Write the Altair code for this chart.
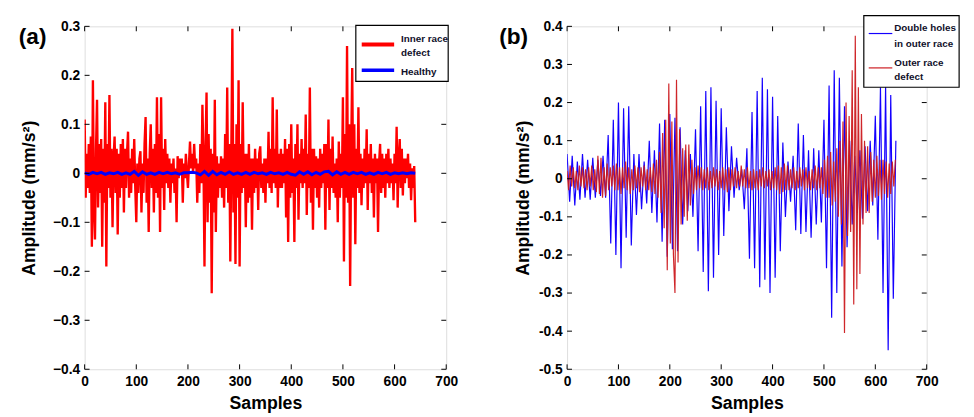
import altair as alt
import pandas as pd

FONT = "Liberation Sans"

# ---------------- data ----------------
# Panel (a): inner race defect, one value every 2 samples
a_inner_step = 2
a_inner = [
    0.11, -0.05, 0.04, -0.03, 0.06, -0.04, 0.075, -0.15, 0.19, -0.07,
    -0.135, 0.05, 0.15, -0.07, 0.06, -0.04, 0.07, -0.15, 0.05, -0.06,
    0.145, -0.19, 0.06, -0.03, 0.16, -0.05, 0.05, -0.11, 0.03, 0.075,
    -0.04, 0.05, -0.125, 0.04, -0.05, 0.06, -0.03, 0.07, -0.08, 0.05,
    -0.03, 0.04, 0.085, -0.05, 0.03, -0.04, 0.05, -0.02, 0.07, -0.03,
    -0.1, 0.02, -0.04, 0.03, 0.045, -0.08, 0.02, -0.04, 0.06, 0.115,
    -0.06, 0.03, -0.12, 0.04, 0.1, -0.03, 0.05, -0.08, 0.06, -0.04,
    0.155, -0.05, 0.08, -0.12, 0.155, -0.03, 0.05, -0.075, 0.07, -0.02,
    0.04, -0.03, 0.03, -0.06, 0.02, -0.02, 0.03, -0.04, 0.01, -0.1,
    0.035, -0.01, 0.03, 0.0, 0.03, -0.06, 0.02, -0.01, 0.04, 0.0,
    -0.03, 0.02, 0.065, 0.01, 0.04, 0.0, 0.06, 0.01, 0.03, -0.06,
    0.02, -0.04, 0.06, -0.02, 0.14, 0.03, -0.19, 0.05, 0.165, -0.1,
    0.08, -0.06, 0.05, -0.245, 0.04, -0.08, 0.15, -0.12, 0.035, -0.05,
    0.02, -0.03, 0.035, -0.05, 0.03, -0.07, 0.08, -0.03, 0.175, -0.06,
    0.06, -0.18, 0.05, 0.295, -0.08, 0.06, -0.185, 0.1, -0.05, 0.19,
    -0.19, 0.06, -0.04, 0.145, -0.03, 0.04, -0.11, 0.04, -0.06, 0.06,
    -0.05, 0.03, -0.115, 0.03, -0.04, 0.05, -0.03, 0.03, -0.075, 0.04,
    0.055, -0.03, 0.02, -0.04, 0.03, -0.06, 0.03, -0.02, 0.085, -0.03,
    0.05, -0.04, 0.155, -0.02, 0.05, -0.03, 0.13, -0.07, 0.04, -0.03,
    0.05, -0.03, 0.04, -0.02, 0.07, -0.09, 0.05, -0.14, 0.06, -0.05,
    0.1, -0.04, 0.03, -0.14, 0.06, -0.03, 0.1, -0.095, 0.04, -0.02,
    0.07, -0.03, 0.05, -0.02, 0.12, -0.085, 0.04, -0.03, 0.175, -0.06,
    0.05, -0.115, 0.05, -0.03, 0.035, -0.05, 0.03, -0.07, 0.05, -0.03,
    0.04, -0.02, 0.06, -0.115, 0.06, -0.03, 0.11, -0.075, 0.05, -0.03,
    0.075, -0.04, 0.02, -0.05, 0.03, -0.1, 0.065, -0.05, 0.04, -0.03,
    0.155, -0.18, 0.08, -0.05, 0.26, -0.06, 0.1, -0.23, 0.05, 0.215,
    -0.05, 0.1, -0.145, 0.05, -0.03, 0.135, -0.04, 0.04, -0.065, 0.03,
    -0.03, 0.05, -0.02, 0.09, -0.075, 0.04, -0.02, 0.06, -0.04, 0.03,
    -0.09, 0.04, -0.02, 0.03, -0.12, 0.02, 0.06, -0.04, 0.04, -0.03,
    0.03, -0.05, 0.04, -0.02, 0.05, -0.03, 0.03, -0.02, 0.02, -0.055,
    0.04, -0.02, 0.095, -0.07, 0.03, 0.07, -0.03, 0.05, -0.045, 0.03,
    -0.02, 0.03, -0.01, 0.04, -0.03, 0.02, -0.055, 0.01, -0.03, 0.015,
    -0.1,
]

# Panel (a): healthy, one value every 8 samples
a_healthy_step = 8
a_healthy = [
    0.001, -0.002, 0.002, -0.001, 0.002, -0.002, 0.001, -0.001, 0.002, -0.002,
    0.001, -0.002, 0.004, -0.004, 0.003, -0.002, 0.001, -0.002, 0.002, -0.001,
    0.002, -0.001, 0.001, -0.002, 0.001, 0.001, 0.002, 0.001, -0.003, 0.004,
    -0.004, 0.004, -0.003, 0.002, -0.002, 0.003, -0.002, 0.001, -0.002, 0.002,
    -0.002, 0.002, -0.001, 0.001, -0.002, 0.002, -0.001, 0.001, -0.002, 0.002,
    -0.002, -0.004, 0.003, -0.002, 0.003, -0.003, 0.002, -0.002, 0.003, 0.004,
    -0.003, 0.003, -0.002, 0.002, -0.002, 0.002, -0.001, 0.002, -0.002, 0.001,
    -0.002, 0.002, -0.001, 0.002, -0.002, 0.001, -0.001, 0.001, -0.001, 0.001,
    0.0,
]

# Panel (b): double holes in outer race, one value every 5 samples
b_double_step = 5
b_double = [
    0.065, -0.06, 0.06, -0.07, 0.045, -0.055, 0.065, -0.05, 0.05, -0.055,
    0.055, -0.05, 0.05, -0.045, 0.06, -0.05, 0.115, -0.17, 0.155, -0.2,
    0.2, -0.235, 0.185, -0.155, 0.19, -0.175, 0.065, -0.095, 0.065, -0.08,
    0.045, -0.065, 0.1, -0.09, 0.075, -0.115, 0.145, -0.165, 0.155, -0.205,
    0.17, -0.185, 0.16, -0.19, 0.135, -0.12, 0.075, -0.085, 0.065, -0.1,
    0.13, -0.19, 0.19, -0.245, 0.23, -0.295, 0.24, -0.26, 0.205, -0.2,
    0.185, -0.15, 0.135, -0.085, 0.085, -0.05, 0.055, -0.03, 0.025, -0.08,
    0.08, -0.21, 0.175, -0.235, 0.23, -0.285, 0.265, -0.265, 0.235, -0.3,
    0.215, -0.26, 0.165, -0.19, 0.095, -0.1, 0.045, -0.06, 0.06, -0.135,
    0.145, -0.145, 0.115, -0.14, 0.075, -0.155, 0.08, -0.12, 0.075, -0.115,
    0.155, -0.235, 0.245, -0.365, 0.285, -0.3, 0.265, -0.23, 0.19, -0.18,
    0.1, -0.12, 0.06, -0.09, 0.075, -0.105, 0.085, -0.085, 0.1, -0.07,
    0.165, -0.16, 0.24, -0.3, 0.245, -0.45, 0.22, -0.315, 0.1,
]

# Panel (b): outer race defect, one value every 3 samples
b_outer_step = 3
b_outer = [
    0.02, -0.03, 0.035, -0.02, 0.03, -0.025, 0.02, -0.03, 0.035, -0.02,
    0.03, -0.025, 0.025, -0.03, 0.03, -0.02, 0.035, -0.03, 0.025, -0.035,
    0.06, -0.04, 0.055, -0.05, 0.03, -0.045, 0.04, -0.03, 0.03, -0.02,
    0.035, -0.03, 0.04, -0.03, 0.03, -0.04, 0.03, -0.025, 0.045, -0.03,
    0.03, -0.04, 0.025, -0.03, 0.035, -0.025, 0.03, -0.035, 0.03, -0.02,
    0.035, -0.03, 0.025, -0.03, 0.03, -0.035, 0.04, -0.04, 0.05, -0.05,
    0.07, -0.09, 0.12, -0.13, 0.155, -0.24, 0.25, -0.17, 0.15, -0.2,
    -0.3, 0.26, -0.22, 0.13, -0.12, 0.08, -0.1, 0.09, -0.11, 0.09,
    -0.07, 0.05, -0.04, 0.03, -0.03, 0.035, -0.025, 0.03, -0.03, 0.025,
    -0.025, 0.03, -0.03, 0.02, -0.025, 0.03, -0.02, 0.025, -0.03, 0.02,
    -0.025, 0.03, -0.03, 0.025, -0.035, 0.03, -0.03, 0.025, -0.02, 0.03,
    -0.025, 0.02, -0.02, 0.035, -0.02, 0.025, -0.025, 0.03, -0.025, 0.02,
    -0.03, 0.025, -0.025, 0.02, -0.03, 0.025, -0.02, 0.03, -0.025, 0.02,
    -0.02, 0.025, -0.03, 0.02, -0.025, 0.03, -0.03, 0.035, -0.04, 0.03,
    -0.035, 0.04, -0.03, 0.035, -0.03, 0.025, -0.025, 0.03, -0.03, 0.02,
    -0.025, 0.03, -0.02, 0.025, -0.03, 0.03, -0.025, 0.02, -0.03, 0.025,
    -0.025, 0.035, -0.03, 0.03, -0.025, 0.03, -0.04, 0.05, -0.05, 0.06,
    -0.05, 0.07, -0.07, 0.045, -0.06, 0.08, -0.1, 0.1, -0.12, 0.15,
    -0.405, 0.2, -0.15, 0.165, -0.14, 0.285, -0.33, 0.375, -0.29, 0.24,
    -0.25, 0.17, -0.12, 0.1, -0.09, 0.085, -0.09, 0.07, -0.06, 0.05,
    -0.05, 0.06, -0.045, 0.05, -0.055, 0.05, -0.04, 0.045, -0.05, 0.04,
    -0.04, 0.045, -0.02, 0.05,
]

x_ticks = [0, 100, 200, 300, 400, 500, 600, 700]
a_y_ticks = [-0.4, -0.3, -0.2, -0.1, 0.0, 0.1, 0.2, 0.3]
b_y_ticks = [-0.5, -0.4, -0.3, -0.2, -0.1, 0.0, 0.1, 0.2, 0.3, 0.4]

a_names = ["Inner race defect", "Healthy"]
b_names = ["Double holes in outer race", "Outer race defect"]

# ---------------- helpers ----------------
W_A, W_B, H = 368, 366, 349
TICK = 5


def series_df(values, step):
    return pd.DataFrame({"x": [i * step for i in range(len(values))], "y": values})


def dummy():
    return pd.DataFrame({"k": [0]})


def panel(series, y_ticks, y_dom, width, label_expr, letter, legend, title_pad):
    xs = alt.Scale(domain=[0, 700], nice=False, zero=False)
    ys = alt.Scale(domain=y_dom, nice=False, zero=False)
    xaxis = alt.Axis(
        values=x_ticks, ticks=False, domain=False, grid=False,
        labelFontSize=14, labelFontWeight="bold", labelFont=FONT,
        labelColor="black", labelPadding=6, labelFlush=False,
        labelOverlap=False, title="Samples", titleFontSize=18,
        titleFontWeight="bold", titleFont=FONT, titleColor="black",
        titlePadding=6)
    yaxis = alt.Axis(
        values=y_ticks, ticks=False, domain=False, grid=False,
        labelFontSize=14, labelFontWeight="bold", labelFont=FONT,
        labelColor="black", labelPadding=5, labelFlush=False,
        labelOverlap=False, labelExpr=label_expr,
        title="Amplitude (mm/s\u00b2)", titleFontSize=18,
        titleFontWeight="bold", titleFont=FONT, titleColor="black",
        titlePadding=title_pad)
    xenc = alt.X("x:Q", scale=xs, axis=xaxis)
    yenc = alt.Y("y:Q", scale=ys, axis=yaxis)

    layers = []
    for df, color, sw, op in series:
        layers.append(alt.Chart(df).mark_line(
            color=color, strokeWidth=sw, opacity=op, strokeJoin="miter",
            clip=True).encode(x=xenc, y=yenc))

    ytdf = pd.DataFrame({"y": y_ticks})
    xtdf = pd.DataFrame({"x": x_ticks})
    layers += [
        alt.Chart(ytdf).mark_rule(color="black", strokeWidth=1).encode(
            y=yenc, x=alt.value(0), x2=alt.value(TICK)),
        alt.Chart(ytdf).mark_rule(color="black", strokeWidth=1).encode(
            y=yenc, x=alt.value(width - TICK), x2=alt.value(width)),
        alt.Chart(xtdf).mark_rule(color="black", strokeWidth=1).encode(
            x=xenc, y=alt.value(H), y2=alt.value(H - TICK)),
        alt.Chart(xtdf).mark_rule(color="black", strokeWidth=1).encode(
            x=xenc, y=alt.value(0), y2=alt.value(TICK)),
    ]

    # panel letter
    layers.append(alt.Chart(dummy()).mark_text(
        text=letter[0], font=FONT, fontSize=23, fontWeight="bold",
        align="left", baseline="middle", color="black").encode(
        x=alt.value(letter[1]), y=alt.value(letter[2])))

    # legend box
    bx0, bx1, by0, by1 = legend["box"]
    layers.append(alt.Chart(dummy()).mark_rect(
        fill="white", stroke="black", strokeWidth=1.2).encode(
        x=alt.value(bx0), x2=alt.value(bx1), y=alt.value(by0), y2=alt.value(by1)))
    for (lx0, lx1, ly, col, lw) in legend["lines"]:
        layers.append(alt.Chart(dummy()).mark_rule(
            color=col, strokeWidth=lw).encode(
            x=alt.value(lx0), x2=alt.value(lx1), y=alt.value(ly)))
    for (tx, ty, txt) in legend["texts"]:
        layers.append(alt.Chart(dummy()).mark_text(
            text=txt, font=legend["font"], fontSize=10, fontWeight="bold",
            align="left", baseline="middle", color="#10102a").encode(
            x=alt.value(tx), y=alt.value(ty)))

    return alt.layer(*layers).properties(width=width, height=H)


a_series = [
    (series_df(a_inner, a_inner_step), "#ff0000", 2.4, 1.0),
    (series_df(a_healthy, a_healthy_step), "#0000ff", 3.0, 1.0),
]
b_series = [
    (series_df(b_double, b_double_step), "#1400ff", 1.2, 1.0),
    (series_df(b_outer, b_outer_step), "#cc1a1f", 1.2, 0.95),
]

legend_a = {
    "box": (276, 370, -1, 56),
    "lines": [(282, 315, 18.5, "#ff0000", 4), (282, 315, 44.7, "#0000ff", 3.5)],
    "texts": [(322, 12.5, "Inner race"), (322, 27.5, "defect"), (322, 47, a_names[1])],
    "font": "Liberation Sans Narrow, Liberation Sans",
}
legend_b = {
    "box": (302, 399, -11, 62),
    "lines": [(307, 331, 7.3, "#1400ff", 1.2), (307, 331, 42.3, "#cc1a1f", 1.2)],
    "texts": [(333, 1.5, "Double holes"), (333, 18, "in outer race"),
              (333, 37, "Outer race"), (333, 52, "defect")],
    "font": FONT,
}

label_a = "datum.value == 0 ? '0' : format(datum.value, '.1f')"
label_b = "datum.value == 0 ? '0' : replace(format(datum.value, '.1f'), '\u2212', '-')"

pa = panel(a_series, a_y_ticks, [-0.4, 0.3], W_A, label_a, ("(a)", -67, 10.5), legend_a, 14)
pb = panel(b_series, b_y_ticks, [-0.5, 0.4], W_B, label_b, ("(b)", -69, 10.7), legend_b, 6)

chart = alt.hconcat(pa, pb, spacing=40).properties(
    padding={"left": 10, "top": 2, "right": 5, "bottom": 5}
).configure_view(stroke="black", strokeWidth=1.3).configure(background="white")

chart.save("out.html", embed_options={"renderer": "svg", "actions": False})
